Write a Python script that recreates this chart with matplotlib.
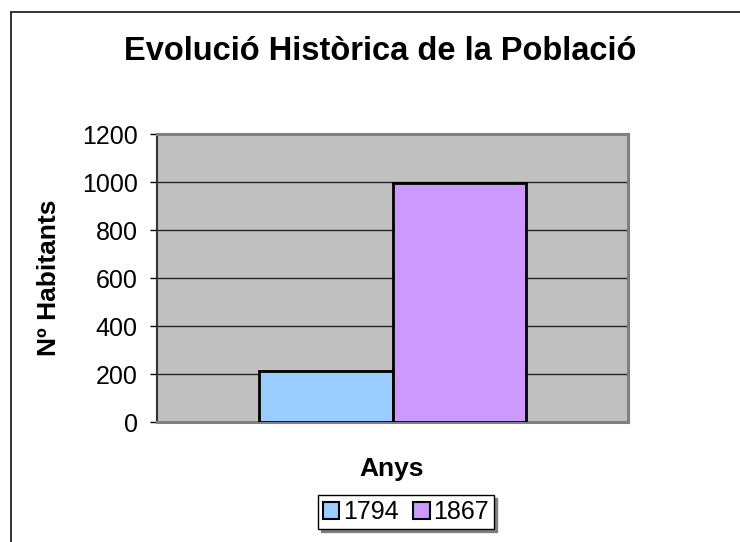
import matplotlib
matplotlib.use("Agg")
import matplotlib.pyplot as plt
import matplotlib.patches as mpatches

# data
years = ["1794", "1867"]
population = [212, 994]
bar_colors = ["#99CCFF", "#CC99FF"]
yticks = [0, 200, 400, 600, 800, 1000, 1200]

plt.rcParams['font.family'] = ['Liberation Sans', 'DejaVu Sans']

W, H = 740, 542
fig = plt.figure(figsize=(W / 100, H / 100), dpi=100)
fig.patch.set_facecolor("white")

# outer chart frame (cut off at right/bottom like the reference)
frame = mpatches.Rectangle((11 / W, -0.1), 1.2, (H - 12) / H + 0.1,
                           transform=fig.transFigure, fill=False,
                           edgecolor="#222222", linewidth=1.3)
fig.patches.append(frame)

ax = fig.add_axes([157 / W, (H - 422) / H, (628 - 157) / W, (422 - 134) / H])
ax.set_facecolor("#C0C0C0")

width = 0.284
offsets = [-width / 2, width / 2]
bars = []
for off, val, col, lab in zip(offsets, population, bar_colors, years):
    b = ax.bar(off, val, width=width, color=col, edgecolor="black",
               linewidth=2, label=lab, zorder=3)
    bars.append(b)

ax.set_xlim(-0.5, 0.5)
ax.set_ylim(0, 1200)
ax.set_yticks(yticks)
ax.set_xticks([])
ax.tick_params(axis="y", direction="out", length=5, width=1, labelsize=18,
               pad=9, color="black")
ax.yaxis.grid(True, color="#222222", linewidth=1, zorder=1)
ax.set_axisbelow(True)

for s in ["top", "right", "bottom"]:
    ax.spines[s].set_color("#808080")
    ax.spines[s].set_linewidth(2.2)
ax.spines["left"].set_color("#333333")
ax.spines["left"].set_linewidth(1.5)

fig.text(380 / W, 1 - 52 / H, "Evolució Històrica de la Població",
         ha="center", va="center", fontsize=23.5, fontweight="bold")
fig.text(49 / W, 1 - 278 / H, "Nº Habitants", rotation=90,
         ha="center", va="center", fontsize=19, fontweight="bold")
fig.text(392 / W, 1 - 469 / H, "Anys", ha="center", va="center",
         fontsize=19, fontweight="bold")

leg = fig.legend(handles=[b[0] for b in bars], labels=years,
                 loc="center", bbox_to_anchor=(406 / W, 1 - 512 / H),
                 ncol=2, fontsize=18, frameon=True, fancybox=False,
                 handlelength=0.65, handleheight=0.65, handletextpad=0.15,
                 columnspacing=0.6, borderpad=0.2, borderaxespad=0,
                 shadow={'color': '#808080', 'alpha': 1})
leg.get_frame().set_edgecolor("black")
leg.get_frame().set_linewidth(1)
for h in leg.legend_handles:
    h.set_linewidth(1.5)

fig.savefig("out.png", dpi=100)
